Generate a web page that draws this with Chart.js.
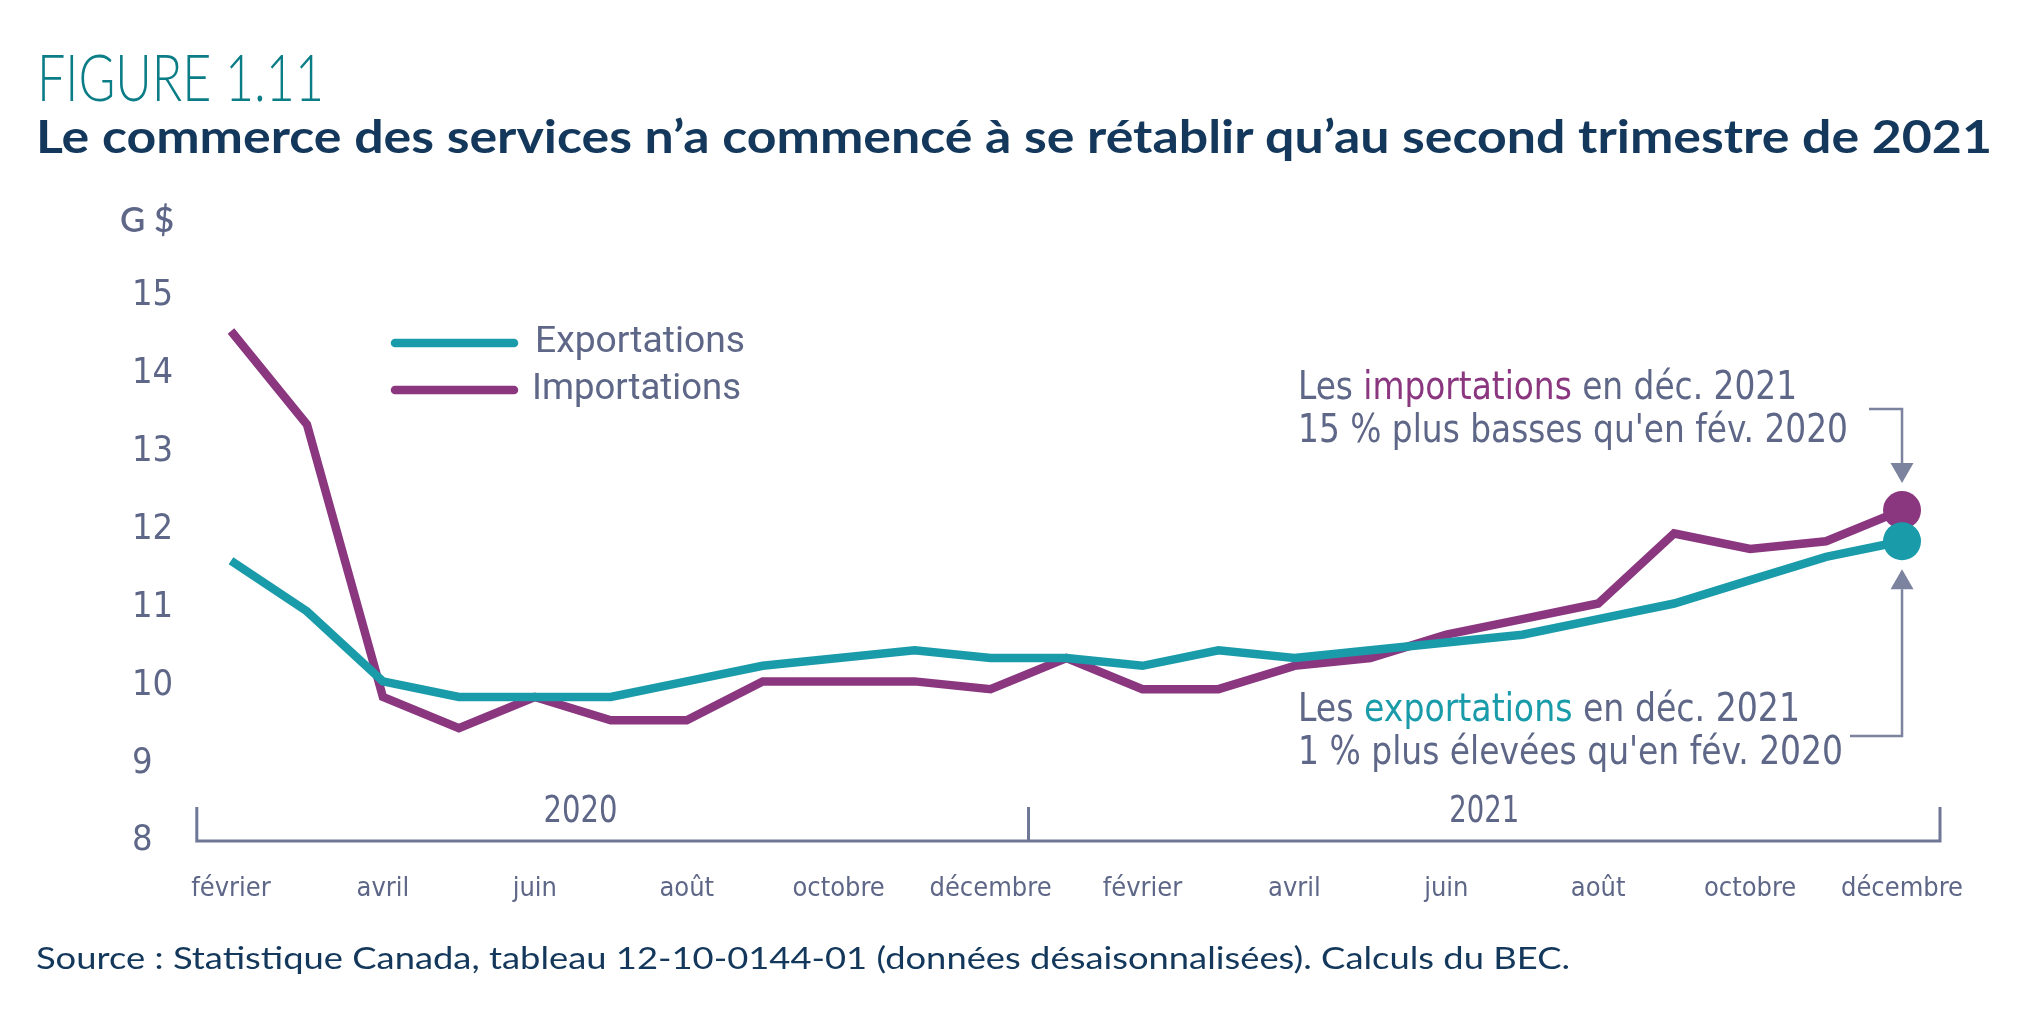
<!DOCTYPE html>
<html><head><meta charset="utf-8">
<script src="https://cdn.jsdelivr.net/npm/chart.js@4.4.1/dist/chart.umd.min.js"></script>
<style>
html,body{margin:0;padding:0;background:#fff;width:2035px;height:1029px;overflow:hidden;}
#c{position:absolute;left:0;top:0;}
.t{position:absolute;white-space:nowrap;transform-origin:0 0;line-height:1;z-index:2;}
#fig{font-family:Lato;font-weight:300;font-size:66px;color:#0B7D87;left:37px;top:43px;}
#sub{font-family:Lato;font-weight:700;font-size:45px;color:#13385C;left:36px;top:114px;}
#src{font-family:Lato;font-weight:400;font-size:31px;color:#13385C;left:36px;top:942px;}
</style></head><body>
<canvas id="c" width="2035" height="1029"></canvas>
<div id="fig" class="t" data-w="287">FIGURE 1.11</div>
<div id="sub" class="t" data-w="1956">Le commerce des services n’a commencé à se rétablir qu’au second trimestre de 2021</div>
<div id="src" class="t" data-w="1534">Source : Statistique Canada, tableau 12-10-0144-01 (données désaisonnalisées). Calculs du BEC.</div>
<script>
// ---- data ----
const months = ['février','mars','avril','mai','juin','juillet','août','septembre','octobre','novembre','décembre',
                'janvier','février','mars','avril','mai','juin','juillet','août','septembre','octobre','novembre','décembre'];
const exportations = [11.6,10.95,10.05,9.85,9.85,9.85,10.05,10.25,10.35,10.45,10.35,10.35,10.25,10.45,10.35,10.45,10.55,10.65,10.85,11.05,11.35,11.65,11.85];
const importations = [14.55,13.35,9.85,9.45,9.85,9.55,9.55,10.05,10.05,10.05,9.95,10.35,9.95,9.95,10.25,10.35,10.65,10.85,11.05,11.95,11.75,11.85,12.25];
const yTicks = [8,9,10,11,12,13,14,15];
const years = ['2020','2021'];
const seriesNames = ['Exportations','Importations'];

const TEAL = '#1A9BAA', PURPLE = '#8A3780', GREY = '#5E6787', LINEGREY = '#6E7796', ARROW = '#7C839E';

// fit HTML texts
document.querySelectorAll('.t').forEach(el=>{
  const w = el.getBoundingClientRect().width;
  el.style.transform = 'scaleX(' + (parseFloat(el.dataset.w)/w) + ')';
});

// pick a narrow font if one is installed
const probe = document.createElement('canvas').getContext('2d');
function hasFont(name){
  probe.font = '40px "' + name + '", monospace';
  const a = probe.measureText('abcdefghijklmnop0123').width;
  probe.font = '40px monospace';
  const b = probe.measureText('abcdefghijklmnop0123').width;
  return Math.abs(a-b) > 0.5;
}
let NARROW = 'Roboto', xSize = 28, ySize = 34;
if (hasFont('Liberation Sans Narrow')) { NARROW = 'Liberation Sans Narrow'; xSize = 32; ySize = 39; }
else if (hasFont('DejaVu Sans Condensed')) { NARROW = 'DejaVu Sans Condensed'; xSize = 27; ySize = 36; }
const NF = '"' + NARROW + '"';

function drawFit(ctx, parts, x, y, w, font, align){
  ctx.save();
  ctx.font = font;
  ctx.textBaseline = 'middle';
  ctx.textAlign = 'left';
  const total = parts.reduce((s,p)=>s+ctx.measureText(p[0]).width,0);
  const s = w ? w/total : 1;
  ctx.translate(align==='center' ? x - total*s/2 : x, y);
  ctx.scale(s,1);
  let cx = 0;
  for (const [t,c] of parts){ ctx.fillStyle = c; ctx.fillText(t,cx,0); cx += ctx.measureText(t).width; }
  ctx.restore();
}

const lastIdx = months.length - 1;
const dotR = 19;

const annot = {
  id:'annot',
  afterDraw(chart){
    const ctx = chart.ctx, xs = chart.scales.x, ys = chart.scales.y;
    const base = ys.getPixelForValue(yTicks[0]);
    // year bracket
    ctx.save();
    ctx.strokeStyle = LINEGREY; ctx.lineWidth = 3; ctx.lineCap = 'butt';
    const xl = xs.getPixelForValue(-0.45), xm = xs.getPixelForValue(10.5), xr = xs.getPixelForValue(lastIdx+0.5);
    ctx.beginPath();
    ctx.moveTo(xl, base-34); ctx.lineTo(xl, base); ctx.lineTo(xr, base); ctx.lineTo(xr, base-34);
    ctx.moveTo(xm, base-34); ctx.lineTo(xm, base);
    ctx.stroke();
    ctx.restore();
    drawFit(ctx, [[years[0],GREY]], xs.getPixelForValue(4.6), base-29, 74, '38px ' + NF, 'center');
    drawFit(ctx, [[years[1],GREY]], xs.getPixelForValue(16.5), base-29, 70, '38px ' + NF, 'center');

    // unit label
    drawFit(ctx, [['G $',GREY]], 120, 221, 54, '600 34px Lato');

    // legend
    ctx.save();
    ctx.lineWidth = 8.5; ctx.lineCap = 'round';
    [[TEAL,343],[PURPLE,390]].forEach(([c,y])=>{
      ctx.strokeStyle = c; ctx.beginPath(); ctx.moveTo(395,y); ctx.lineTo(514,y); ctx.stroke();
    });
    ctx.restore();
    drawFit(ctx, [[seriesNames[0],GREY]], 535, 343, 210, '37px Roboto');
    drawFit(ctx, [[seriesNames[1],GREY]], 532, 390, 209, '37px Roboto');

    // annotations
    const f = '39px ' + NF;
    drawFit(ctx, [['Les ',GREY],['importations',PURPLE],[' en déc. 2021',GREY]], 1298, 389, 499, f);
    drawFit(ctx, [["15 % plus basses qu'en fév. 2020",GREY]], 1298, 432, 550, f);
    drawFit(ctx, [['Les ',GREY],['exportations',TEAL],[' en déc. 2021',GREY]], 1298, 711, 502, f);
    drawFit(ctx, [["1 % plus élevées qu'en fév. 2020",GREY]], 1298, 754, 545, f);

    // arrows
    const px = xs.getPixelForValue(lastIdx);
    const iy = ys.getPixelForValue(importations[lastIdx]);
    const ey = ys.getPixelForValue(exportations[lastIdx]);
    ctx.save();
    ctx.strokeStyle = ARROW; ctx.fillStyle = ARROW; ctx.lineWidth = 2.5;
    // imports arrow (down)
    let tip = iy - dotR - 8;
    ctx.beginPath(); ctx.moveTo(1869, 409); ctx.lineTo(px, 409); ctx.lineTo(px, tip-20); ctx.stroke();
    ctx.beginPath(); ctx.moveTo(px-11.5, tip-20); ctx.lineTo(px+11.5, tip-20); ctx.lineTo(px, tip); ctx.closePath(); ctx.fill();
    // exports arrow (up)
    tip = ey + dotR + 9;
    ctx.beginPath(); ctx.moveTo(1850, 736); ctx.lineTo(px, 736); ctx.lineTo(px, tip+20); ctx.stroke();
    ctx.beginPath(); ctx.moveTo(px-11.5, tip+20); ctx.lineTo(px+11.5, tip+20); ctx.lineTo(px, tip); ctx.closePath(); ctx.fill();
    ctx.restore();
  }
};

const radii = months.map((m,i)=> i===lastIdx ? dotR : 0);

new Chart(document.getElementById('c'), {
  type:'line',
  data:{
    labels: months,
    datasets:[
      {label:seriesNames[0], data:exportations, borderColor:TEAL, backgroundColor:TEAL, borderWidth:8.5,
       pointRadius:radii, pointBackgroundColor:TEAL, pointBorderWidth:0, pointHoverRadius:radii, tension:0, clip:false},
      {label:seriesNames[1], data:importations, borderColor:PURPLE, backgroundColor:PURPLE, borderWidth:8.5,
       pointRadius:radii, pointBackgroundColor:PURPLE, pointBorderWidth:0, pointHoverRadius:radii, tension:0, clip:false}
    ]
  },
  options:{
    responsive:false, animation:false, devicePixelRatio:1, events:[],
    layout:{padding:{left:132,right:95,top:296,bottom:0}},
    plugins:{legend:{display:false}, tooltip:{enabled:false}, title:{display:false}},
    scales:{
      x:{
        type:'category', offset:true,
        grid:{display:false, drawTicks:false}, border:{display:false},
        ticks:{autoSkip:false, maxRotation:0, minRotation:0, padding:32, color:GREY,
               font:{family:NARROW, size:xSize},
               callback:(v,i)=> i%2===0 ? months[i] : ''},
        afterFit:s=>{ s.height = 188; }
      },
      y:{
        min:yTicks[0], max:yTicks[yTicks.length-1],
        grid:{display:false, drawTicks:false}, border:{display:false},
        afterBuildTicks:s=>{ s.ticks = yTicks.map(v=>({value:v})); },
        ticks:{crossAlign:'far', padding:0, color:GREY, font:{family:NARROW, size:ySize}},
        afterFit:s=>{ s.width = 61; }
      }
    }
  },
  plugins:[annot]
});
</script>
</body></html>
